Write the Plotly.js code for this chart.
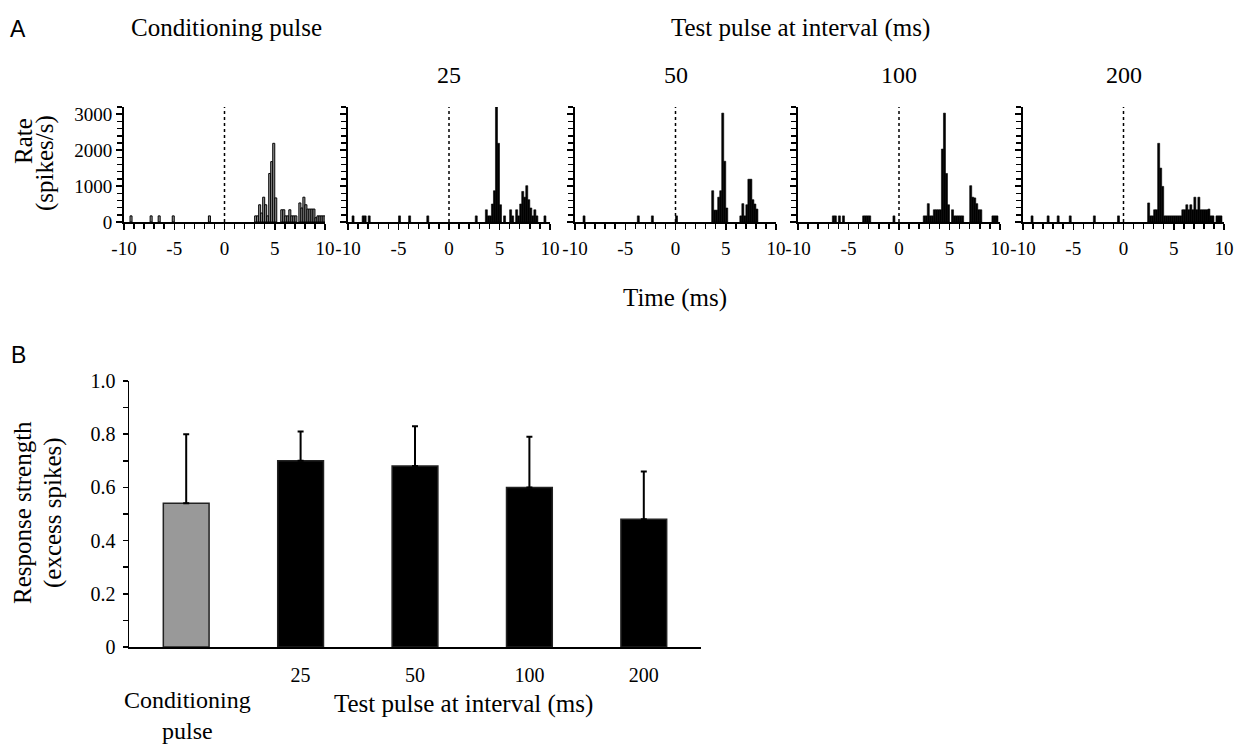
<!DOCTYPE html>
<html>
<head>
<meta charset="utf-8">
<script src="https://cdn.plot.ly/plotly-3.0.1.min.js"></script>
<style>html,body{margin:0;padding:0;background:#fff;}#chart{width:1237px;height:745px;}</style>
</head>
<body>
<div id="chart"></div>
<script>
// ---------- Panel A data: PSTH (time in ms, rate in spikes/s) ----------
const condTime = [-9.3, -7.3, -6.5, -5.1, -1.5, 3.1, 3.3, 3.5, 3.7, 3.9, 4.1, 4.3, 4.5, 4.7, 4.9, 5.1, 5.7, 5.9, 6.1, 6.3, 6.5, 6.7, 6.9, 7.1, 7.5, 7.7, 7.9, 8.1, 8.3, 8.5, 8.7, 8.9, 9.1, 9.3, 9.5, 9.7, 9.9];
const condRate = [170, 170, 170, 170, 170, 170, 170, 480, 250, 690, 480, 170, 1350, 1680, 2190, 670, 340, 340, 170, 170, 340, 170, 170, 170, 530, 390, 690, 480, 360, 360, 360, 360, 120, 170, 170, 170, 170];

const t25Time = [-9.5, -8.5, -8.3, -7.9, -4.9, -3.9, -2.1, 2.7, 3.7, 3.9, 4.1, 4.3, 4.5, 4.7, 4.9, 5.1, 5.5, 6.1, 6.3, 6.7, 6.9, 7.1, 7.3, 7.5, 7.7, 7.9, 8.1, 8.3, 8.5, 8.7, 9.5];
const t25Rate = [170, 170, 170, 170, 170, 170, 170, 170, 340, 170, 170, 500, 870, 3200, 2190, 480, 170, 340, 170, 340, 170, 500, 850, 690, 1010, 620, 390, 170, 340, 170, 170];

const t50Time = [-9.1, -3.7, -2.3, 0.1, 3.7, 3.9, 4.1, 4.3, 4.5, 4.7, 4.9, 5.1, 6.5, 6.7, 6.9, 7.1, 7.3, 7.5, 7.7, 7.9, 8.1];
const t50Rate = [170, 170, 170, 170, 870, 330, 330, 690, 870, 3030, 1690, 390, 170, 510, 170, 480, 1190, 1190, 620, 500, 360];

const t100Time = [-6.5, -6.3, -5.9, -5.5, -3.5, -3.3, -3.1, -2.9, -0.5, 2.5, 2.7, 2.9, 3.1, 3.3, 3.5, 3.7, 3.9, 4.1, 4.3, 4.5, 4.7, 4.9, 5.3, 5.5, 5.7, 5.9, 6.1, 6.3, 7.1, 7.3, 7.5, 7.7, 7.9, 8.1, 9.3, 9.5, 9.7];
const t100Rate = [170, 170, 170, 170, 170, 170, 170, 170, 170, 170, 170, 510, 170, 170, 340, 340, 340, 340, 2030, 3030, 1350, 480, 340, 170, 170, 170, 170, 170, 1010, 690, 670, 510, 340, 340, 170, 170, 170];

const t200Time = [-9.1, -7.5, -6.5, -5.3, -2.9, -0.5, 2.5, 2.7, 2.9, 3.1, 3.3, 3.5, 3.7, 3.9, 4.1, 4.3, 4.5, 4.7, 4.9, 5.1, 5.3, 5.5, 5.7, 5.9, 6.1, 6.3, 6.5, 6.7, 6.9, 7.1, 7.3, 7.5, 7.7, 7.9, 8.1, 8.3, 8.5, 8.7, 8.9, 9.3, 9.5, 9.7];
const t200Rate = [170, 170, 170, 170, 170, 170, 530, 170, 170, 340, 340, 2190, 1500, 990, 170, 170, 170, 170, 170, 170, 170, 170, 170, 340, 340, 480, 340, 480, 340, 690, 340, 690, 340, 340, 340, 340, 360, 170, 170, 170, 170, 170];

const panelLabels = ['', '25', '50', '100', '200'];
const timeTickVals = [-10, -5, 0, 5, 10];
const timeTickText = ['-10', '-5', '0', '5', '10'];
const rateTickVals = [0, 1000, 2000, 3000];
const rateTickText = ['0', '1000', '2000', '3000'];

// ---------- Panel B data ----------
const categories = ['Conditioning pulse', '25 ms', '50 ms', '100 ms', '200 ms'];
const categoryTickLabels = ['', '25', '50', '100', '200'];
const strength = [0.54, 0.70, 0.68, 0.60, 0.48];
const strengthErr = [0.26, 0.11, 0.15, 0.19, 0.18];
const yTickVals = [0, 0.2, 0.4, 0.6, 0.8, 1.0];
const yTickText = ['0', '0.2', '0.4', '0.6', '0.8', '1.0'];

// ---------- layout helpers ----------
const W = 1237, H = 745;
const SERIF = 'Liberation Serif, Times New Roman, serif';
const px = x => x / W;
const py = y => 1 - y / H;

const panels = [
  {time: condTime, rate: condRate, x0: 124, x1: 325, fill: '#9a9a9a', line: 1.0},
  {time: t25Time, rate: t25Rate, x0: 348, x1: 550, fill: '#000', line: 0.6},
  {time: t50Time, rate: t50Rate, x0: 575, x1: 776, fill: '#000', line: 0.6},
  {time: t100Time, rate: t100Rate, x0: 798, x1: 1000, fill: '#000', line: 0.6},
  {time: t200Time, rate: t200Rate, x0: 1023, x1: 1224, fill: '#000', line: 0.6}
];
const aTop = 107, aBot = 222;

const data = [];
const layout = {
  width: W, height: H,
  margin: {l: 0, r: 0, t: 0, b: 0},
  paper_bgcolor: '#fff', plot_bgcolor: 'rgba(0,0,0,0)',
  showlegend: false,
  font: {family: SERIF, color: '#000'},
  annotations: [],
  shapes: []
};

panels.forEach((p, i) => {
  const s = i === 0 ? '' : String(i + 1);
  data.push({
    type: 'bar', x: p.time, y: p.rate, width: 0.2,
    xaxis: 'x' + s, yaxis: 'y' + s,
    marker: {color: p.fill, line: {color: '#000', width: p.line}},
    hoverinfo: 'skip'
  });
  layout['xaxis' + s] = {
    domain: [px(p.x0), px(p.x1)], anchor: 'y' + s,
    range: [-10, 10], tickmode: 'array', tickvals: timeTickVals, ticktext: timeTickText,
    ticks: 'outside', ticklen: 6, tickwidth: 1.5, tickcolor: '#000',
    minor: {dtick: 1, tick0: -10, ticks: 'outside', ticklen: 5, tickwidth: 1.5, tickcolor: '#000', showgrid: false},
    showline: true, linewidth: 2, linecolor: '#000',
    showgrid: false, zeroline: false, fixedrange: true,
    tickfont: {family: SERIF, size: 19, color: '#000'}, ticklabelstandoff: 2
  };
  layout['yaxis' + s] = {
    domain: [py(aBot), py(aTop)], anchor: 'x' + s,
    range: [0, 3200], tickmode: 'array', tickvals: rateTickVals, ticktext: rateTickText,
    ticks: 'outside', ticklen: 6, tickwidth: 1.5, tickcolor: '#000',
    minor: {dtick: 200, tick0: 0, ticks: 'outside', ticklen: 5, tickwidth: 1.5, tickcolor: '#000', showgrid: false},
    showline: true, linewidth: 2, linecolor: '#000',
    showgrid: false, zeroline: false, fixedrange: true,
    showticklabels: i === 0,
    tickfont: {family: SERIF, size: 19, color: '#000'}
  };
  layout.shapes.push({
    type: 'line', xref: 'x' + s, yref: 'y' + s + ' domain',
    x0: 0, x1: 0, y0: 0, y1: 1,
    line: {color: '#000', width: 1.5, dash: 'dot'}
  });
  if (panelLabels[i]) {
    layout.annotations.push({
      xref: 'paper', yref: 'paper', x: px((p.x0 + p.x1) / 2), y: py(75),
      text: panelLabels[i], showarrow: false, xanchor: 'center', yanchor: 'middle',
      font: {family: SERIF, size: 24, color: '#000'}
    });
  }
});

// Panel B
data.push({
  type: 'bar', x: categories, y: strength, width: 0.4,
  xaxis: 'x6', yaxis: 'y6',
  marker: {color: strength.map((v, i) => i === 0 ? '#999999' : '#000000'), line: {color: '#222', width: 1.5}},
  error_y: {type: 'data', symmetric: false, array: strengthErr, arrayminus: strengthErr.map(() => 0),
            color: '#000', thickness: 2, width: 3},
  hoverinfo: 'skip'
});
layout.xaxis6 = {
  domain: [px(129), px(701)], anchor: 'y6', type: 'category',
  range: [-0.5, 4.5], tickvals: categories, ticktext: categoryTickLabels,
  ticks: '', showline: true, linewidth: 1.5, linecolor: '#000',
  showgrid: false, zeroline: false, fixedrange: true,
  tickfont: {family: SERIF, size: 20, color: '#000'}, ticklabelstandoff: 9
};
layout.yaxis6 = {
  domain: [py(647), py(381)], anchor: 'x6',
  range: [0, 1], tickvals: yTickVals, ticktext: yTickText,
  ticks: 'outside', ticklen: 5, tickwidth: 1.5, tickcolor: '#000',
  minor: {dtick: 0.1, tick0: 0, ticks: 'outside', ticklen: 5, tickwidth: 1.5, tickcolor: '#000', showgrid: false},
  showline: true, linewidth: 1.5, linecolor: '#000',
  showgrid: false, zeroline: false, fixedrange: true,
  tickfont: {family: SERIF, size: 20, color: '#000'}, ticklabelstandoff: 3
};

function ann(text, x, y, size, opts) {
  layout.annotations.push(Object.assign({
    xref: 'paper', yref: 'paper', x: px(x), y: py(y), text: text, showarrow: false,
    xanchor: 'center', yanchor: 'middle',
    font: {family: SERIF, size: size, color: '#000'}
  }, opts || {}));
}
ann('A', 18, 29, 23, {font: {family: 'Liberation Sans, Arial, sans-serif', size: 23, color: '#000'}});
ann('B', 18, 355, 23, {font: {family: 'Liberation Sans, Arial, sans-serif', size: 23, color: '#000'}});
ann('Conditioning pulse', 226, 28, 25);
ann('Test pulse at interval (ms)', 800, 28, 25);
ann('Rate', 23, 141, 25, {textangle: -90});
ann('(spikes/s)', 45, 163, 25, {textangle: -90});
ann('Time (ms)', 675, 298, 25);
ann('Response strength', 22, 513, 25, {textangle: -90});
ann('(excess spikes)', 53, 513, 25, {textangle: -90});
ann('Conditioning<br>pulse', 187, 715, 24);
ann('Test pulse at interval (ms)', 463, 704, 25);

Plotly.newPlot('chart', data, layout, {staticPlot: true, displayModeBar: false});
</script>
</body>
</html>
